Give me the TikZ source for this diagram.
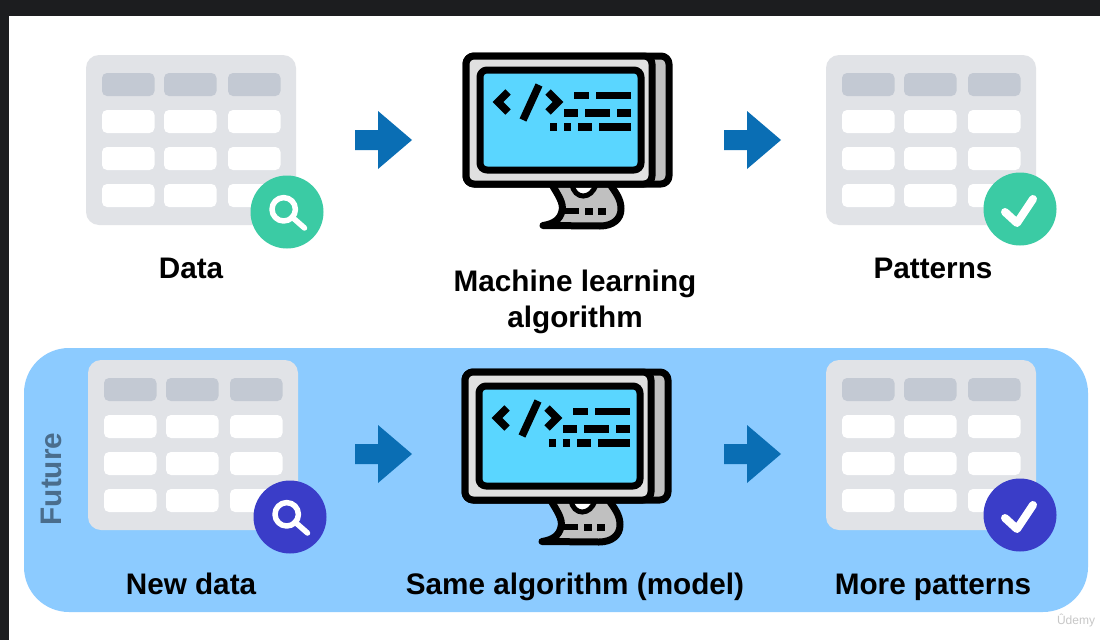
\documentclass[tikz,border=0pt]{standalone}
\usepackage{fontspec}
\setmainfont{Liberation Sans}
\definecolor{barDark}{HTML}{1C1D1F}
\definecolor{panelBlue}{HTML}{8CCBFF}
\definecolor{tableGrey}{HTML}{E1E3E7}
\definecolor{headGrey}{HTML}{C3C9D3}
\definecolor{arrowBlue}{HTML}{0A6EB4}
\definecolor{badgeGreen}{HTML}{3BCBA4}
\definecolor{badgeIndigo}{HTML}{3A3DC8}
\definecolor{screenBlue}{HTML}{5AD6FF}
\definecolor{caseGrey}{HTML}{E0E0E0}
\definecolor{backGrey}{HTML}{C0C0C0}
\definecolor{futureText}{HTML}{4A6D8C}
\tikzset{
  caption/.style={font=\fontsize{29.7}{36.5}\selectfont\bfseries, align=center, text=black, inner sep=0pt, anchor=base},
  badge/.style={circle, minimum size=73pt, inner sep=0pt},
  iconline/.style={draw=white, line width=5.5pt, line cap=round, line join=round},
  monoline/.style={draw=black, line width=7pt, line join=round},
  codeline/.style={draw=black, line width=7.5pt},
  datatable/.pic={
    \fill[tableGrey, rounded corners=13pt] (0,0) rectangle (210,170);
    \foreach \x in {16,78,142} {
      \fill[headGrey, rounded corners=5pt] (\x,18) rectangle ++(52.5,23);
      \foreach \y in {55,92,129}
        \fill[white, rounded corners=5pt] (\x,\y) rectangle ++(52.5,23);
    }
  },
  lens/.pic={
    \draw[iconline] (-3.3,-2.7) circle (11.7);
    \draw[iconline] (5,5) -- (17.5,16);
  },
  tick/.pic={
    \draw[iconline, line width=8pt] (-15,3) -- (-3,14) -- (13,-10);
  },
  blockarrow/.pic={
    \fill[arrowBlue] (0,-10) -- (23,-10) -- (23,-29) -- (57,0) -- (23,29) -- (23,10) -- (0,10) -- cycle;
  },
  monitor/.pic={
    % stand first, the case goes over it
    \draw[monoline, fill=backGrey] (88,130) .. controls (95,142) and (101,150) .. (99,158)
      .. controls (97,167) and (90,171) .. (80,172.5) -- (137,173)
      .. controls (150,173) and (158,166) .. (158,156)
      .. controls (158,146) and (153,140) .. (146,130);
    \draw[black, line width=5pt, fill=white] (109,131) .. controls (111,147) and (129,147) .. (133,131);
    \draw[black, line width=6pt] (99,158) -- (116,158);
    \fill (122,155) rectangle ++(8,7);
    \fill (135,155) rectangle ++(8,7);
    % case
    \draw[monoline, fill=backGrey, rounded corners=8pt] (3,3) rectangle (206,131);
    \draw[monoline, fill=caseGrey, rounded corners=8pt] (3,3) rectangle (189,131);
    \draw[monoline, fill=screenBlue, rounded corners=7pt] (17,17) rectangle (178,117);
    % code on the screen
    \draw[codeline] (45,39) -- (35,49) -- (45,59);
    \draw[codeline] (76,32) -- (60,67);
    \draw[codeline] (85,39) -- (95,49) -- (85,59);
    \foreach \a/\b in {111/126,133/168}
      \fill (\a,39) rectangle (\b,46);
    \foreach \a/\b in {101/115,122/147,154/168}
      \fill (\a,56) rectangle (\b,64);
    \foreach \a/\b in {87/94,101/108,115/129,136/168}
      \fill (\a,70) rectangle (\b,78);
  },
}
\begin{document}
\begin{tikzpicture}[x=1pt,y=-1pt]
\useasboundingbox (0,0) rectangle (1100,640);
\fill[white] (0,0) rectangle (1100,640);
\fill[barDark] (0,0) rectangle (1100,16);
\fill[barDark] (0,0) rectangle (9,640);
\fill[panelBlue, rounded corners=45pt] (24,348) rectangle (1088,612);

% top row
\pic at (86,55) {datatable};
\node[badge, fill=badgeGreen] (findTop) at (287,212) {};
\pic at (287,212) {lens};
\pic at (355,140) {blockarrow};
\pic at (463,53) {monitor};
\pic at (724,140) {blockarrow};
\pic at (826,55) {datatable};
\node[badge, fill=badgeGreen] (tickTop) at (1020,209) {};
\pic at (1020,209) {tick};

% bottom row
\pic at (88,360) {datatable};
\node[badge, fill=badgeIndigo] (findBot) at (290,517) {};
\pic at (290,517) {lens};
\pic at (355,454) {blockarrow};
\pic at (462,369) {monitor};
\pic at (724,454) {blockarrow};
\pic at (826,360) {datatable};
\node[badge, fill=badgeIndigo] (tickBot) at (1020,515) {};
\pic at (1020,515) {tick};

\node[caption] (data) at (191,278) {Data};
\node[caption] (algoA) at (575,291) {Machine learning};
\node[caption] (algoB) at (575,327) {algorithm};
\node[caption] (patterns) at (933,278) {Patterns};
\node[caption] (newdata) at (191,594) {New data};
\node[caption] (model) at (575,594) {Same algorithm (model)};
\node[caption] (morepatterns) at (933,594) {More patterns};
\node[caption, text=futureText, rotate=90] (future) at (61,479) {Future};
\node[font=\fontsize{12}{12}\selectfont, text=black!22, inner sep=0pt] (mark) at (1076,620) {Ûdemy};
\end{tikzpicture}
\end{document}
